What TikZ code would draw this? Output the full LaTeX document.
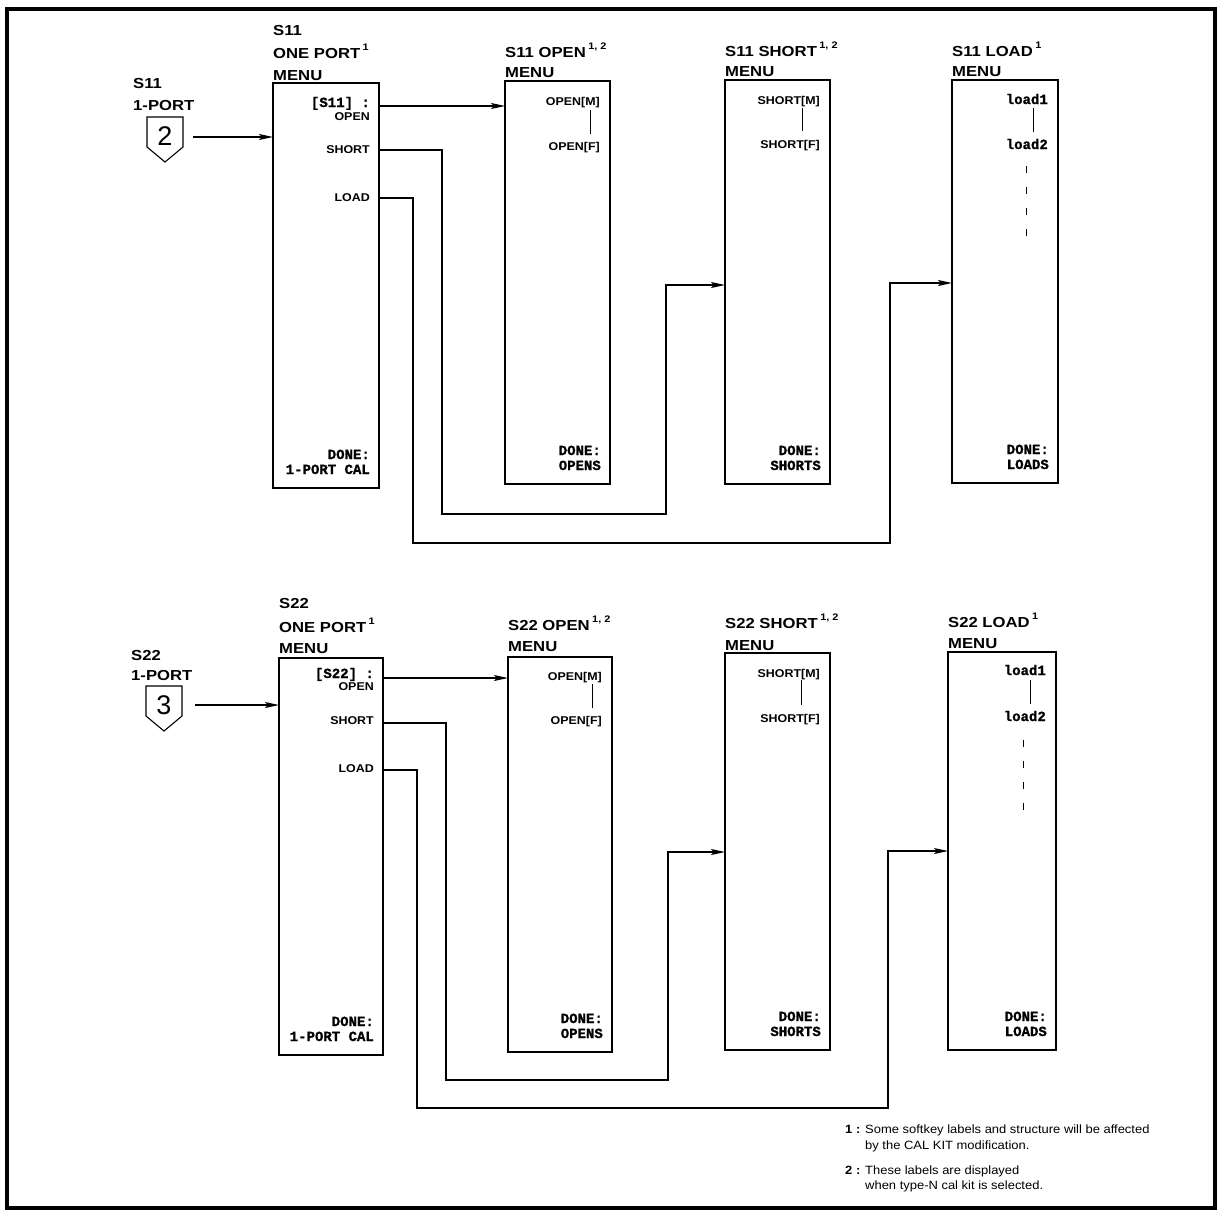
\documentclass[tikz,border=0pt]{standalone}
\usepackage{fontspec}
\setmainfont{Liberation Sans}
\newfontfamily\ttlf[FakeStretch=1.15]{Liberation Sans}
\newfontfamily\lblf[FakeStretch=1.1]{Liberation Sans}
\newfontfamily\monof[FakeBold=1.2]{Liberation Mono}
\newfontfamily\notef[FakeStretch=1.08]{Liberation Sans}
\usetikzlibrary{arrows.meta,calc}
\newcommand\supmark[1]{\,\raisebox{8pt}{\fontsize{9.5}{9.5}\selectfont #1}}
\begin{document}
\begin{tikzpicture}[x=1pt,y=-1pt,
 menubox/.style={draw, line width=1.3pt, inner sep=0pt, outer sep=0pt, anchor=north west},
 conn/.style={line width=1.3pt},
 arr/.style={conn, -{Stealth[length=14pt,width=6pt,inset=3pt]}},
 ttl/.style={font=\ttlf\bfseries\fontsize{14.5}{16}\selectfont, anchor=base west, inner sep=0pt},
 lbl/.style={font=\lblf\bfseries\fontsize{11.3}{13}\selectfont, anchor=base east, inner sep=0pt},
 mono/.style={font=\monof\bfseries\fontsize{14}{16}\selectfont, anchor=base east, inner sep=0pt},
 note/.style={font=\notef\fontsize{12}{14}\selectfont, anchor=base west, inner sep=0pt},
 notenum/.style={font=\notef\bfseries\fontsize{12}{14}\selectfont, anchor=base west, inner sep=0pt},
 digit/.style={font=\fontsize{27}{27}\selectfont, inner sep=0pt},
 badge/.style={line width=1.1pt, line join=miter},
 vline/.style={line width=1pt},
 dline/.style={line width=1pt, dash pattern=on 7pt off 14pt},
]
\useasboundingbox (0,0) rectangle (1222,1211);
\draw[line width=3.5pt] (7,9) rectangle (1215,1208);

% ---------- boxes ----------
\node[menubox, minimum width=106pt, minimum height=405pt] (b1) at (273,83) {};
\node[menubox, minimum width=105pt, minimum height=403pt] (b2) at (505,81) {};
\node[menubox, minimum width=105pt, minimum height=404pt] (b3) at (725,80) {};
\node[menubox, minimum width=106pt, minimum height=403pt] (b4) at (952,80) {};
\node[menubox, minimum width=104pt, minimum height=397pt] (b5) at (279,658) {};
\node[menubox, minimum width=104pt, minimum height=395pt] (b6) at (508,657) {};
\node[menubox, minimum width=105pt, minimum height=397pt] (b7) at (725,653) {};
\node[menubox, minimum width=108pt, minimum height=398pt] (b8) at (948,652) {};

% ---------- titles ----------
\node[ttl] (t1a) at (273,35) {S11};
\node[ttl] (t1b) at (273,58) {ONE PORT\supmark{1}};
\node[ttl] (t1c) at (273,80) {MENU};
\node[ttl] (t2a) at (505,57) {S11 OPEN\supmark{1, 2}};
\node[ttl] (t2b) at (505,77) {MENU};
\node[ttl] (t3a) at (725,56) {S11 SHORT\supmark{1, 2}};
\node[ttl] (t3b) at (725,76) {MENU};
\node[ttl] (t4a) at (952,56) {S11 LOAD\supmark{1}};
\node[ttl] (t4b) at (952,76) {MENU};
\node[ttl] (t5a) at (279,608) {S22};
\node[ttl] (t5b) at (279,632) {ONE PORT\supmark{1}};
\node[ttl] (t5c) at (279,653) {MENU};
\node[ttl] (t6a) at (508,630) {S22 OPEN\supmark{1, 2}};
\node[ttl] (t6b) at (508,651) {MENU};
\node[ttl] (t7a) at (725,628) {S22 SHORT\supmark{1, 2}};
\node[ttl] (t7b) at (725,650) {MENU};
\node[ttl] (t8a) at (948,627) {S22 LOAD\supmark{1}};
\node[ttl] (t8b) at (948,648) {MENU};

% ---------- entries ----------
\node[ttl] (e1a) at (133,88) {S11};
\node[ttl] (e1b) at (133,110) {1-PORT};
\draw[badge] (147,117) -- (183,117) -- (183,147) -- (165,162) -- (147,147) -- cycle;
\node[digit] (d2) at (165,136) {2};
\node[ttl] (e2a) at (131,660) {S22};
\node[ttl] (e2b) at (131,680) {1-PORT};
\draw[badge] (146,686) -- (182,686) -- (182,716) -- (164,731) -- (146,716) -- cycle;
\node[digit] (d3) at (164,705) {3};

\coordinate (e1) at (193,137);
\draw[arr] (e1) -- (e1 -| b1.west);
\coordinate (e2) at (195,705);
\draw[arr] (e2) -- (e2 -| b5.west);

% ---------- box 1 ----------
\node[mono] (k1) at (370,107) {[S11] :};
\node[lbl] (k1o) at (370,120) {OPEN};
\node[lbl] (k1s) at (370,153) {SHORT};
\node[lbl] (k1l) at (370,201) {LOAD};
\node[mono] (k1d) at (370,459) {DONE:};
\node[mono] (k1c) at (370,474) {1-PORT CAL};
% ---------- box 2 ----------
\node[lbl] (m2) at (600,105) {OPEN[M]};
\node[lbl] (f2) at (600,150) {OPEN[F]};
\draw[vline] (590,110) -- (590,134);
\node[mono] (d2a) at (601,455) {DONE:};
\node[mono] (d2b) at (601,470) {OPENS};
% ---------- box 3 ----------
\node[lbl] (m3) at (820,104) {SHORT[M]};
\node[lbl] (f3) at (820,148) {SHORT[F]};
\draw[vline] (802,108) -- (802,131);
\node[mono] (d3a) at (821,455) {DONE:};
\node[mono] (d3b) at (821,470) {SHORTS};
% ---------- box 4 ----------
\node[mono] (m4) at (1048,104) {load1};
\node[mono] (f4) at (1048,149) {load2};
\draw[vline] (1033,108) -- (1033,132);
\draw[dline] (1026,166) -- (1026,246);
\node[mono] (d4a) at (1049,454) {DONE:};
\node[mono] (d4b) at (1049,469) {LOADS};
% ---------- box 5 ----------
\node[mono] (k5) at (374,678) {[S22] :};
\node[lbl] (k5o) at (374,690) {OPEN};
\node[lbl] (k5s) at (374,724) {SHORT};
\node[lbl] (k5l) at (374,772) {LOAD};
\node[mono] (k5d) at (374,1026) {DONE:};
\node[mono] (k5c) at (374,1041) {1-PORT CAL};
% ---------- box 6 ----------
\node[lbl] (m6) at (602,680) {OPEN[M]};
\node[lbl] (f6) at (602,724) {OPEN[F]};
\draw[vline] (592,684) -- (592,708);
\node[mono] (d6a) at (603,1023) {DONE:};
\node[mono] (d6b) at (603,1038) {OPENS};
% ---------- box 7 ----------
\node[lbl] (m7) at (820,677) {SHORT[M]};
\node[lbl] (f7) at (820,722) {SHORT[F]};
\draw[vline] (801,680) -- (801,705);
\node[mono] (d7a) at (821,1021) {DONE:};
\node[mono] (d7b) at (821,1036) {SHORTS};
% ---------- box 8 ----------
\node[mono] (m8) at (1046,675) {load1};
\node[mono] (f8) at (1046,721) {load2};
\draw[vline] (1030,680) -- (1030,704);
\draw[dline] (1023,740) -- (1023,820);
\node[mono] (d8a) at (1047,1021) {DONE:};
\node[mono] (d8b) at (1047,1036) {LOADS};

% ---------- connectors row 1 ----------
\coordinate (o1) at ($(b1.north east)+(0,23)$);
\draw[arr] (o1) -- (o1 -| b2.west);
\coordinate (s1) at ($(b1.north east)+(0,67)$);
\coordinate (s1a) at (442,514);
\coordinate (s1b) at (666,285);
\draw[arr] (s1) -| (s1a) -| (s1b) -- (s1b -| b3.west);
\coordinate (l1) at ($(b1.north east)+(0,115)$);
\coordinate (l1a) at (413,543);
\coordinate (l1b) at (890,283);
\draw[arr] (l1) -| (l1a) -| (l1b) -- (l1b -| b4.west);

% ---------- connectors row 2 ----------
\coordinate (o2) at ($(b5.north east)+(0,20)$);
\draw[arr] (o2) -- (o2 -| b6.west);
\coordinate (s2) at ($(b5.north east)+(0,65)$);
\coordinate (s2a) at (446,1080);
\coordinate (s2b) at (668,852);
\draw[arr] (s2) -| (s2a) -| (s2b) -- (s2b -| b7.west);
\coordinate (l2) at ($(b5.north east)+(0,112)$);
\coordinate (l2a) at (417,1108);
\coordinate (l2b) at (888,851);
\draw[arr] (l2) -| (l2a) -| (l2b) -- (l2b -| b8.west);

% ---------- footnotes ----------
\node[notenum] (n1) at (845,1133) {1 :};
\node[note] (n1a) at (865,1133) {Some softkey labels and structure will be affected};
\node[note] (n1b) at (865,1149) {by the CAL KIT modification.};
\node[notenum] (n2) at (845,1174) {2 :};
\node[note] (n2a) at (865,1174) {These labels are displayed};
\node[note] (n2b) at (865,1189) {when type-N cal kit is selected.};
\end{tikzpicture}
\end{document}
